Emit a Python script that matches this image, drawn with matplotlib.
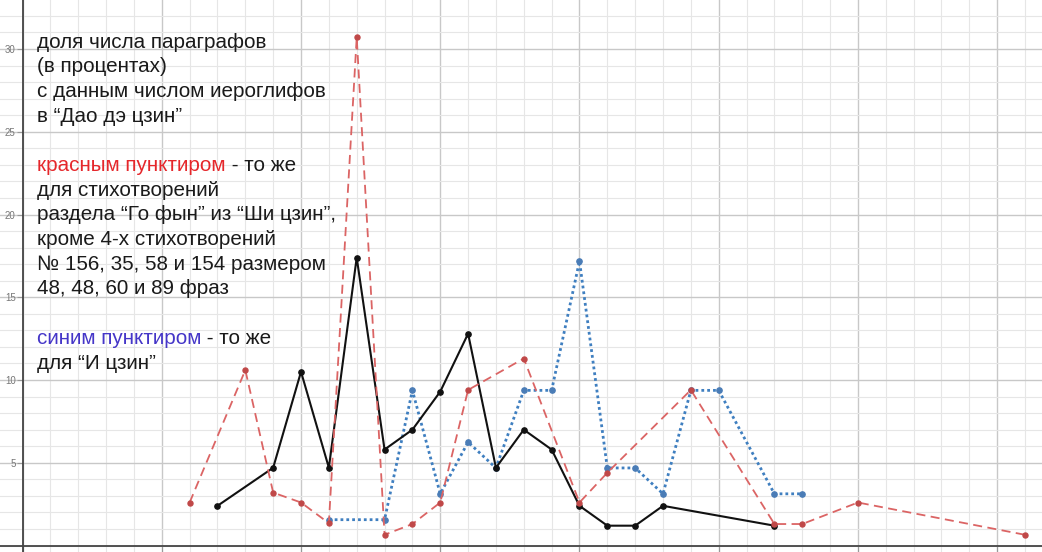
import matplotlib
matplotlib.use("Agg")
import matplotlib.pyplot as plt
from matplotlib.ticker import MultipleLocator

plt.rcParams['font.family'] = ['Liberation Sans', 'DejaVu Sans']

# "Дао дэ цзин" (black solid)
dao_x = [7, 9, 10, 11, 12, 13, 14, 15, 16, 17, 18, 19, 20, 21, 22, 23, 27]
dao_y = [2.4, 4.7, 10.5, 4.7, 17.4, 5.8, 7.0, 9.3, 12.8, 4.7, 7.0, 5.8, 2.4, 1.2, 1.2, 2.4, 1.2]

# "Го фын" (red dashed)
guofeng_x = [6, 8, 9, 10, 11, 12, 13, 14, 15, 16, 18, 20, 21, 24, 27, 28, 30, 36]
guofeng_y = [2.6, 10.6, 3.2, 2.6, 1.35, 30.7, 0.65, 1.3, 2.6, 9.4, 11.3, 2.6, 4.4, 9.4, 1.3, 1.3, 2.6, 0.65]

# "И цзин" (blue dotted)
yijing_x = [11, 13, 14, 15, 16, 17, 18, 19, 20, 21, 22, 23, 24, 25, 27, 28]
yijing_y = [1.5625, 1.5625, 9.375, 3.125, 6.25, 4.6875, 9.375, 9.375, 17.1875,
            4.6875, 4.6875, 3.125, 9.375, 9.375, 3.125, 3.125]

x_ticks = [0, 5, 10, 15, 20, 25, 30, 35]
y_ticks = [5, 10, 15, 20, 25, 30]

text_block1 = ["доля числа параграфов", "(в процентах)",
               "с данным числом иероглифов", "в “Дао дэ цзин”"]
text_block2 = ["для стихотворений", "раздела “Го фын” из “Ши цзин”,",
               "кроме 4-х стихотворений", "№ 156, 35, 58 и 154 размером",
               "48, 48, 60 и 89 фраз"]
text_block3 = ["для “И цзин”"]


fig = plt.figure(figsize=(10.42, 5.52), dpi=100)
ax = fig.add_axes([0, 0, 1, 1])
ax.set_xlim(-0.81, 36.61)
ax.set_ylim(-0.39, 32.96)

# grid: minor every 1, major every 5
ax.xaxis.set_major_locator(MultipleLocator(5))
ax.yaxis.set_major_locator(MultipleLocator(5))
ax.xaxis.set_minor_locator(MultipleLocator(1))
ax.yaxis.set_minor_locator(MultipleLocator(1))
ax.grid(which='minor', color='#e6e6e6', linewidth=0.8, zorder=0)
ax.grid(which='major', color='#c8c8c8', linewidth=1.0, zorder=0)
ax.set_axisbelow(True)

for s in ['top', 'right']:
  ax.spines[s].set_visible(False)
ax.spines['left'].set_position(('data', 0))
ax.spines['bottom'].set_position(('data', 0))
ax.spines['left'].set_color('#444444')
ax.spines['bottom'].set_color('#444444')
ax.spines['left'].set_linewidth(1.3)
ax.spines['bottom'].set_linewidth(1.3)

ax.set_xticks(x_ticks)
ax.set_yticks(y_ticks)
ax.tick_params(which='major', length=4, width=0.8, color='#999999',
               labelsize=7, labelcolor='#777777', pad=1)
ax.tick_params(which='minor', length=0)

ax.plot(yijing_x, yijing_y, linestyle=(0, (1.0, 1.1)), color='#3f7fc0', linewidth=2.0,
        marker='o', markersize=3.8, markerfacecolor='#4a7cb6', markeredgecolor='#4a7cb6', zorder=3)
ax.plot(dao_x, dao_y, linestyle='-', color='#111111', linewidth=1.5,
        marker='o', markersize=3.8, zorder=4)
ax.plot(guofeng_x, guofeng_y, linestyle=(0, (5, 3)), color='#db6464', linewidth=1.3,
        marker='o', markersize=3.6, markerfacecolor='#c04848', markeredgecolor='#c04848', zorder=5)

# text annotation, one line at a time
fs = 14.9
line_h = 24.7
top = 42.0
x0 = 37.0
H = fig.get_size_inches()[1] * fig.dpi


def put(i, s, color='#1a1a1a'):
  return ax.text(x0, H - (top + i * line_h), s, transform=None, fontsize=fs,
                 color=color, va='center', ha='left', zorder=6)


for i, s in enumerate(text_block1):
  put(i, s)

t = put(5, "красным пунктиром", color='#e5272b')
ax.annotate(" - то же", xy=(1, 0.5), xycoords=t, va='center', ha='left',
            fontsize=fs, color='#1a1a1a', zorder=6)
for i, s in enumerate(text_block2):
  put(6 + i, s)

t = put(12, "синим пунктиром", color='#4536c8')
ax.annotate(" - то же", xy=(1, 0.5), xycoords=t, va='center', ha='left',
            fontsize=fs, color='#1a1a1a', zorder=6)
for i, s in enumerate(text_block3):
  put(13 + i, s)

fig.savefig("out.png", dpi=100)
